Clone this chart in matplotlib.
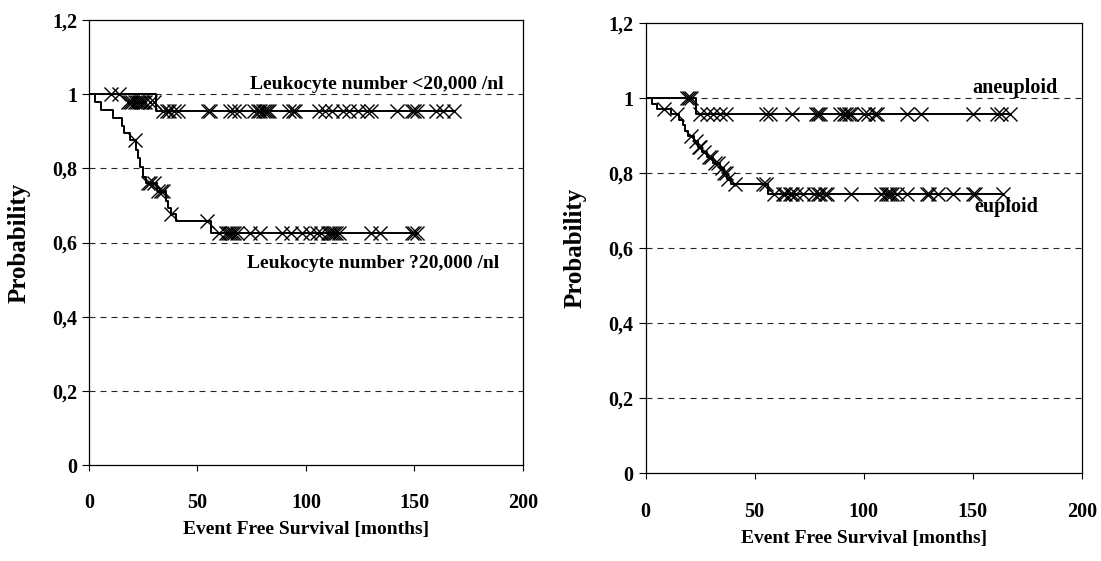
import numpy as np
import matplotlib
matplotlib.use("Agg")
from matplotlib import pyplot as plt

plt.rcParams['font.family'] = ['Liberation Serif', 'DejaVu Serif']
plt.rcParams['font.weight'] = 'bold'

# left panel: leukocyte number, step times / survival after step
lh_t = [31]
lh_s = [0.955]
lh_cens = [10, 14, 34, 36, 37, 39, 41, 55, 56, 65, 67, 69, 76, 78, 79, 80, 81, 82, 83,
           92, 94, 95, 106, 109, 112, 117, 120, 124, 128, 130, 142, 149, 150, 151,
           160, 163, 168]
# censored marks drawn a bit below the line before the first drop
lh_cens_mid = [18, 19, 20, 21, 22, 23, 24, 25, 26, 28, 30]
lh_mid_level = 0.98

ll_t = [2.6, 5.7, 11, 15.4, 16.1, 18.7, 21.8, 22.5, 23.3, 24.8, 26.3, 31.5, 35.5,
        36.3, 37.8, 40.1, 56.2]
ll_s = [0.980, 0.958, 0.935, 0.913, 0.895, 0.877, 0.850, 0.827, 0.805, 0.778, 0.760,
        0.740, 0.711, 0.693, 0.677, 0.657, 0.625]
ll_cens = [21, 27, 28, 30, 32, 33, 34, 38, 54.6, 60, 63, 64, 65, 66, 67, 68, 74, 79,
           89, 93, 98, 102, 105, 107, 110, 111, 112, 113, 114, 115, 130, 134,
           149, 150, 151]

# right panel: ploidy
rh_t = [23]
rh_s = [0.957]
rh_cens = [19, 20, 21, 25, 28, 31, 34, 37, 55, 57, 67, 78, 79, 80, 89, 91, 92, 93, 94,
           100, 102, 105, 106, 120, 126, 150, 161, 163, 167]

rl_t = [3.1, 5.4, 11.5, 15.5, 17, 18, 19.5, 22, 24, 26, 28, 31, 34, 36, 37.5, 39, 56]
rl_s = [0.986, 0.971, 0.957, 0.943, 0.929, 0.914, 0.900, 0.886, 0.871, 0.857, 0.843,
        0.828, 0.814, 0.800, 0.786, 0.771, 0.745]
rl_cens = [8.5, 14.6, 21, 23, 24.5, 25, 27, 29, 30, 32, 33, 35, 36, 37, 38, 41, 54, 55,
           59, 63, 64, 66, 67, 69, 72, 77, 79, 80, 82, 83, 94, 108, 110, 111, 112, 113,
           115, 120, 129, 130, 134, 141, 150, 151, 164]

y_ticks = [0, 0.2, 0.4, 0.6, 0.8, 1, 1.2]
y_labels = ['0', '0,2', '0,4', '0,6', '0,8', '1', '1,2']
x_ticks = [0, 50, 100, 150, 200]


def surv_at(t, st, ss):
    idx = np.searchsorted(st, t, side='right')
    return np.r_[1.0, ss][idx]


def km(ax, st, ss, cens, extra_t=None, extra_p=None):
    end = max(cens)
    xs = np.r_[0, st, end]
    ys = np.r_[1.0, ss, ss[-1]]
    ax.step(xs, ys, where='post', color='k', lw=1.4)
    cens = np.array(cens, dtype=float)
    ax.plot(cens, surv_at(cens, st, ss), 'x', color='k', ms=10, mew=1.0)
    if extra_t is not None:
        ax.plot(extra_t, [extra_p] * len(extra_t), 'x', color='k', ms=10, mew=1.0)


def style(ax):
    ax.set_xlim(0, 200)
    ax.set_ylim(0, 1.2)
    ax.set_xticks(x_ticks)
    ax.set_yticks(y_ticks)
    ax.set_yticklabels(y_labels)
    for y in y_ticks[1:-1]:
        ax.axhline(y, color='0.15', lw=0.8, ls=(0, (5.4, 4.5)), zorder=0)
    for sp in ax.spines.values():
        sp.set_linewidth(0.9)
        sp.set_color('k')
    ax.tick_params(axis='y', direction='out', length=5, width=0.8, pad=3.5, labelsize=14.5)
    ax.tick_params(axis='x', direction='out', length=4.5, width=0.8, pad=16, labelsize=14.5)
    ax.set_xlabel('Event Free Survival [months]', fontsize=14, fontweight='bold')
    ax.set_ylabel('Probability', fontsize=18, fontweight='bold')
    ax.xaxis.set_label_coords(0.5, -0.125)
    ax.yaxis.set_label_coords(-0.135, 0.5)


fig = plt.figure(figsize=(11.01, 5.61), dpi=100)
ax1 = fig.add_axes([0.0808, 0.1711, 0.3942, 0.7932])
ax2 = fig.add_axes([0.5863, 0.1563, 0.3965, 0.8021])

km(ax1, lh_t, lh_s, lh_cens, lh_cens_mid, lh_mid_level)
km(ax1, ll_t, ll_s, ll_cens)
style(ax1)
ax1.text(191, 1.015, 'Leukocyte number <20,000 /nl', ha='right', va='baseline',
         fontsize=14, fontweight='bold')
ax1.text(189, 0.532, 'Leukocyte number ?20,000 /nl', ha='right', va='baseline',
         fontsize=14, fontweight='bold')

km(ax2, rh_t, rh_s, rh_cens)
km(ax2, rl_t, rl_s, rl_cens)
style(ax2)
ax2.text(189, 1.013, 'aneuploid', ha='right', va='baseline', fontsize=14.5, fontweight='bold')
ax2.text(180, 0.698, 'euploid', ha='right', va='baseline', fontsize=14.5, fontweight='bold')

fig.savefig('out.png', dpi=100)
